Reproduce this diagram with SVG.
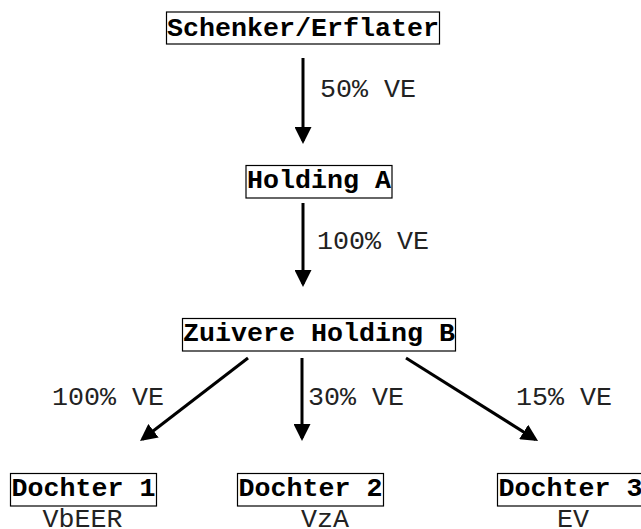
<svg xmlns="http://www.w3.org/2000/svg" width="641" height="529" viewBox="0 0 641 529">
<defs>
<style>
.box{fill:#fff;stroke:#000;stroke-width:1.2}
.nt{font-family:"Liberation Mono","Courier New",monospace;font-weight:bold;font-size:26.67px;fill:#000}
.sub{font-family:"Liberation Mono","Courier New",monospace;font-size:26.67px;fill:#222}
.lbl{font-family:"Liberation Mono","Courier New",monospace;font-size:26.67px;fill:#222}
.arr{stroke:#000;stroke-width:3;fill:none;marker-end:url(#ah)}
</style>
<marker id="ah" markerUnits="userSpaceOnUse" markerWidth="17" markerHeight="17" refX="14" refY="8.5" orient="auto">
<path d="M0,0 L17,8.5 L0,17 z" fill="#000"/>
</marker>
</defs>
<rect width="641" height="529" fill="#fff"/>
<g id="connectors">
<line class="arr" x1="303" y1="58" x2="303" y2="141"/>
<line class="arr" x1="303" y1="203" x2="303" y2="284"/>
<line class="arr" x1="248" y1="358" x2="142.4" y2="439.2"/>
<line class="arr" x1="302" y1="358" x2="302" y2="438"/>
<line class="arr" x1="406" y1="358" x2="535.5" y2="439.4"/>
<text class="lbl" x="320" y="97">50% VE</text>
<text class="lbl" x="317" y="249">100% VE</text>
<text class="lbl" x="52" y="405">100% VE</text>
<text class="lbl" x="308" y="405">30% VE</text>
<text class="lbl" x="516" y="405">15% VE</text>
</g>
<g id="schenker">
<rect class="box" x="166.5" y="12" width="273" height="32"/>
<text class="nt" x="167" y="36">Schenker/Erflater</text>
</g>
<g id="holdingA">
<rect class="box" x="246" y="165.5" width="146" height="32.5"/>
<text class="nt" x="247" y="188">Holding A</text>
</g>
<g id="holdingB">
<rect class="box" x="182.5" y="318.5" width="273" height="32.5"/>
<text class="nt" x="183" y="341">Zuivere Holding B</text>
</g>
<g id="dochter1">
<rect class="box" x="10.5" y="473.5" width="146" height="32.5"/>
<text class="nt" x="11.5" y="496">Dochter 1</text>
<text class="sub" x="42.5" y="527">VbEER</text>
</g>
<g id="dochter2">
<rect class="box" x="237.5" y="473.5" width="146" height="32.5"/>
<text class="nt" x="238.5" y="496">Dochter 2</text>
<text class="sub" x="301" y="527">VzA</text>
</g>
<g id="dochter3">
<rect class="box" x="497.5" y="473.5" width="150" height="32.5"/>
<text class="nt" x="498.5" y="496">Dochter 3</text>
<text class="sub" x="557" y="527">EV</text>
</g>
</svg>
